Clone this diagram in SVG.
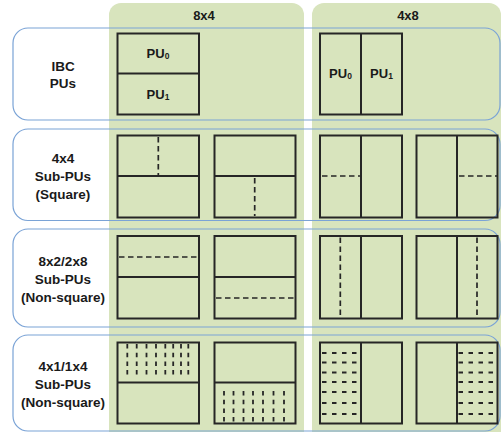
<svg xmlns="http://www.w3.org/2000/svg" width="501" height="432" viewBox="0 0 501 432">
  <style>
    .col { fill: #d8e4bd; }
    .row { fill: none; stroke: #7aa3d6; stroke-width: 1.2; }
    .blk { fill: none; stroke: #262626; stroke-width: 2; }
    .div { stroke: #262626; stroke-width: 2; }
    .dash { stroke: #262626; stroke-width: 1.7; stroke-dasharray: 5.5 3.5; fill: none; }
    .fine { stroke: #262626; stroke-width: 1.8; stroke-dasharray: 4.5 4.2; fill: none; }
    .fineh { stroke: #262626; stroke-width: 1.8; stroke-dasharray: 4.5 5.5; fill: none; }
    text { font-family: "Liberation Sans", Arial, sans-serif; font-weight: bold; fill: #1a1a1a; text-anchor: middle; }
    .lbl { font-size: 13.5px; }
    .hdr { font-size: 13px; }
    .pu { font-size: 13px; }
    .sub { font-size: 8.5px; }
  </style>

  <rect width="501" height="432" fill="#ffffff"/>

  <!-- block-size columns -->
  <g id="col-8x4">
    <rect class="col" x="109" y="3" width="195" height="445" rx="12"/>
    <text class="hdr" x="204" y="20">8x4</text>
  </g>
  <g id="col-4x8">
    <rect class="col" x="312" y="3" width="189" height="445" rx="12"/>
    <text class="hdr" x="408" y="20">4x8</text>
  </g>

  <!-- partition rows -->
  <g id="row-ibc">
    <rect class="row" x="13" y="28" width="487" height="92" rx="15"/>
    <text class="lbl" x="63" y="71">IBC</text>
    <text class="lbl" x="63" y="88">PUs</text>
  </g>
  <g id="row-4x4">
    <rect class="row" x="13" y="129" width="487" height="91.5" rx="15"/>
    <text class="lbl" x="63" y="163">4x4</text>
    <text class="lbl" x="63" y="181">Sub-PUs</text>
    <text class="lbl" x="63" y="199">(Square)</text>
  </g>
  <g id="row-8x2">
    <rect class="row" x="13" y="229" width="487" height="98" rx="15"/>
    <text class="lbl" x="63" y="266">8x2/2x8</text>
    <text class="lbl" x="63" y="284">Sub-PUs</text>
    <text class="lbl" x="63" y="302">(Non-square)</text>
  </g>
  <g id="row-4x1">
    <rect class="row" x="13" y="335" width="487" height="96" rx="15"/>
    <text class="lbl" x="63" y="371">4x1/1x4</text>
    <text class="lbl" x="63" y="389">Sub-PUs</text>
    <text class="lbl" x="63" y="407">(Non-square)</text>
  </g>

  <!-- IBC PUs -->
  <g id="ibc-8x4">
    <rect class="blk" x="117.5" y="33.5" width="81.5" height="81"/>
    <line class="div" x1="117.5" y1="73.5" x2="199" y2="73.5"/>
    <text class="pu" x="158" y="57.5">PU<tspan class="sub" dy="1">0</tspan></text>
    <text class="pu" x="158" y="99">PU<tspan class="sub" dy="1">1</tspan></text>
  </g>
  <g id="ibc-4x8">
    <rect class="blk" x="320" y="33.5" width="82" height="81"/>
    <line class="div" x1="361" y1="33.5" x2="361" y2="114.5"/>
    <text class="pu" x="340.5" y="78">PU<tspan class="sub" dy="1">0</tspan></text>
    <text class="pu" x="381.5" y="78">PU<tspan class="sub" dy="1">1</tspan></text>
  </g>

  <!-- 4x4 sub-PUs -->
  <g id="sq-8x4-pu0">
    <rect class="blk" x="117.5" y="135.5" width="81.5" height="82"/>
    <line class="div" x1="117.5" y1="176" x2="199" y2="176"/>
    <line class="dash" x1="158.3" y1="137" x2="158.3" y2="175"/>
  </g>
  <g id="sq-8x4-pu1">
    <rect class="blk" x="214.5" y="135.5" width="81" height="82"/>
    <line class="div" x1="214.5" y1="176" x2="295.5" y2="176"/>
    <line class="dash" x1="254.7" y1="178" x2="254.7" y2="216"/>
  </g>
  <g id="sq-4x8-pu0">
    <rect class="blk" x="320" y="135.5" width="82" height="82"/>
    <line class="div" x1="361" y1="135.5" x2="361" y2="217.5"/>
    <line class="dash" x1="322" y1="176" x2="360" y2="176"/>
  </g>
  <g id="sq-4x8-pu1">
    <rect class="blk" x="416.5" y="135.5" width="81" height="82"/>
    <line class="div" x1="457" y1="135.5" x2="457" y2="217.5"/>
    <line class="dash" x1="459" y1="176" x2="497" y2="176"/>
  </g>

  <!-- 8x2 / 2x8 sub-PUs -->
  <g id="ns-8x4-pu0">
    <rect class="blk" x="117.5" y="236" width="81.5" height="82.5"/>
    <line class="div" x1="117.5" y1="277" x2="199" y2="277"/>
    <line class="dash" x1="119" y1="257" x2="198" y2="257"/>
  </g>
  <g id="ns-8x4-pu1">
    <rect class="blk" x="214.5" y="236" width="81" height="82.5"/>
    <line class="div" x1="214.5" y1="277" x2="295.5" y2="277"/>
    <line class="dash" x1="216" y1="298" x2="295" y2="298"/>
  </g>
  <g id="ns-4x8-pu0">
    <rect class="blk" x="320" y="236" width="82" height="82.5"/>
    <line class="div" x1="361" y1="236" x2="361" y2="318.5"/>
    <line class="dash" x1="340.3" y1="237.5" x2="340.3" y2="318"/>
  </g>
  <g id="ns-4x8-pu1">
    <rect class="blk" x="416.5" y="236" width="81" height="82.5"/>
    <line class="div" x1="457" y1="236" x2="457" y2="318.5"/>
    <line class="dash" x1="477" y1="237.5" x2="477" y2="318"/>
  </g>

  <!-- 4x1 / 1x4 sub-PUs -->
  <g id="ln-8x4-pu0">
    <rect class="blk" x="117.5" y="342.5" width="81.5" height="81"/>
    <line class="div" x1="117.5" y1="382.5" x2="199" y2="382.5"/>
    <g class="fine">
      <line x1="127.3" y1="344" x2="127.3" y2="376"/>
      <line x1="136.7" y1="344" x2="136.7" y2="376"/>
      <line x1="146.5" y1="344" x2="146.5" y2="376"/>
      <line x1="156" y1="344" x2="156" y2="376"/>
      <line x1="165.3" y1="344" x2="165.3" y2="376"/>
      <line x1="173.2" y1="344" x2="173.2" y2="376"/>
      <line x1="181" y1="344" x2="181" y2="376"/>
      <line x1="188.3" y1="344" x2="188.3" y2="376"/>
    </g>
  </g>
  <g id="ln-8x4-pu1">
    <rect class="blk" x="214.5" y="342.5" width="81" height="81"/>
    <line class="div" x1="214.5" y1="382.5" x2="295.5" y2="382.5"/>
    <g class="fine">
      <line x1="224" y1="391" x2="224" y2="423"/>
      <line x1="233.5" y1="391" x2="233.5" y2="423"/>
      <line x1="243.5" y1="391" x2="243.5" y2="423"/>
      <line x1="253" y1="391" x2="253" y2="423"/>
      <line x1="263" y1="391" x2="263" y2="423"/>
      <line x1="273.5" y1="391" x2="273.5" y2="423"/>
      <line x1="284" y1="391" x2="284" y2="423"/>
    </g>
  </g>
  <g id="ln-4x8-pu0">
    <rect class="blk" x="320" y="342.5" width="82" height="81"/>
    <line class="div" x1="361" y1="342.5" x2="361" y2="423.5"/>
    <g class="fineh">
      <line x1="322" y1="353" x2="359" y2="353"/>
      <line x1="322" y1="362.5" x2="359" y2="362.5"/>
      <line x1="322" y1="372.5" x2="359" y2="372.5"/>
      <line x1="322" y1="382" x2="359" y2="382"/>
      <line x1="322" y1="392" x2="359" y2="392"/>
      <line x1="322" y1="403" x2="359" y2="403"/>
      <line x1="322" y1="414" x2="359" y2="414"/>
    </g>
  </g>
  <g id="ln-4x8-pu1">
    <rect class="blk" x="416.5" y="342.5" width="81" height="81"/>
    <line class="div" x1="457" y1="342.5" x2="457" y2="423.5"/>
    <g class="fineh">
      <line x1="458.5" y1="353" x2="495" y2="353"/>
      <line x1="458.5" y1="362.5" x2="495" y2="362.5"/>
      <line x1="458.5" y1="372.5" x2="495" y2="372.5"/>
      <line x1="458.5" y1="382" x2="495" y2="382"/>
      <line x1="458.5" y1="392" x2="495" y2="392"/>
      <line x1="458.5" y1="403" x2="495" y2="403"/>
      <line x1="458.5" y1="414" x2="495" y2="414"/>
    </g>
  </g>
</svg>
